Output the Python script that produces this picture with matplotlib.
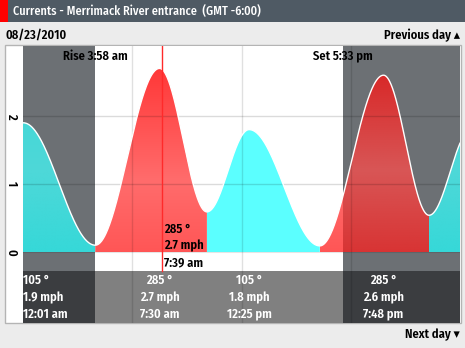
import numpy as np
import matplotlib
matplotlib.use("Agg")
import matplotlib.pyplot as plt
from matplotlib.colors import LinearSegmentedColormap
from matplotlib.patches import Polygon, Rectangle

plt.rcParams["font.family"] = ["Fira Sans Condensed", "Roboto Condensed",
                               "Liberation Sans Narrow", "Liberation Sans", "DejaVu Sans"]

TITLE = "Currents - Merrimack River entrance  (GMT -6:00)"
DATE_LABEL = "08/23/2010"

# current extremes for the day (hours after midnight, speed in mph)
EXTREME_HOURS = [0.017, 3.97, 7.5, 10.1, 12.42, 16.3, 19.8, 22.3, 24.6]
EXTREME_SPEEDS = [1.9, 0.1, 2.7, 0.59, 1.8, 0.09, 2.6, 0.54, 1.8]
# flow direction between successive slack points
RUN_BOUNDS = [0.0, 3.97, 10.1, 16.3, 22.3, 24.0]
RUN_DIRECTIONS = [105, 285, 105, 285, 105]

SUNRISE_H = 3 + 58 / 60
SUNSET_H = 17 + 33 / 60
SUNRISE_LABEL = "Rise 3:58 am"
SUNSET_LABEL = "Set 5:33 pm"

CURSOR_H = 7 + 39 / 60
CURSOR_LINES = ["285 °", "2.7 mph", "7:39 am"]

# peak flow table
PEAK_HOURS = [0.017, 7.5, 12.42, 19.8]
PEAK_DIRS = ["105 °", "285 °", "105 °", "285 °"]
PEAK_SPEEDS = ["1.9 mph", "2.7 mph", "1.8 mph", "2.6 mph"]
PEAK_TIMES = ["12:01 am", "7:30 am", "12:25 pm", "7:48 pm"]

W, H = 465, 348
BG = "#ececec"
NIGHT = "#6c7074"
TABLE_DAY = "#808080"
TABLE_NIGHT = "#3b3d40"
FS = 9
WEIGHT = "semibold"

FILL_COLORS = {
    (285, "day"): [(0.0, "#ff5656"), (0.35, "#ff6c6c"), (1.0, "#ff2e2e")],
    (285, "night"): [(0.0, "#d83434"), (0.4, "#d85656"), (1.0, "#d81c1c")],
    (105, "day"): [(0.0, "#5cffff"), (1.0, "#5affff")],
    (105, "night"): [(0.0, "#36d8d8"), (0.4, "#4ed8d8"), (1.0, "#3ad6d6")],
}


def speed_at(hours):
    hours = np.asarray(hours, dtype=float)
    out = np.empty_like(hours)
    for i, t in enumerate(hours):
        k = np.searchsorted(EXTREME_HOURS, t) - 1
        k = min(max(k, 0), len(EXTREME_HOURS) - 2)
        t0, t1 = EXTREME_HOURS[k], EXTREME_HOURS[k + 1]
        v0, v1 = EXTREME_SPEEDS[k], EXTREME_SPEEDS[k + 1]
        frac = np.clip((t - t0) / (t1 - t0), 0, 1)
        out[i] = v0 + (v1 - v0) * (1 - np.cos(np.pi * frac)) / 2
    return out


def ypx(p):
    # vertical pixel row -> speed units (zero line at row 252, 68 px per mph)
    return (252 - p) / 68


fig = plt.figure(figsize=(W / 100, H / 100), dpi=100, facecolor=BG)

# header bar
fig.patches.append(Rectangle((0, 1 - 22 / H), 1, 22 / H, transform=fig.transFigure,
                             facecolor="#4f5a64", edgecolor="none", zorder=-2))
fig.patches.append(Rectangle((0, 1 - 22 / H), 8 / W, 22 / H, transform=fig.transFigure,
                             facecolor="#ff0000", edgecolor="none", zorder=-2))
fig.text(13 / W, 1 - 11.5 / H, TITLE, color="white", fontsize=8.8, fontweight="medium",
         va="center", ha="left")
fig.text(5 / W, 1 - 35 / H, DATE_LABEL, color="black", fontsize=FS, fontweight=WEIGHT,
         va="center", ha="left")
fig.text(460 / W, 1 - 35 / H, "Previous day \u25b4", color="black", fontsize=FS,
         fontweight=WEIGHT, va="center", ha="right")
fig.text(460 / W, 1 - 335 / H, "Next day \u25be", color="black", fontsize=FS,
         fontweight=WEIGHT, va="center", ha="right")

# outer frame with white label column
fig.patches.append(Rectangle((5 / W, 1 - 323 / H), 456 / W, 278 / H, transform=fig.transFigure,
                             facecolor="white", edgecolor="#b4b4b4", linewidth=1, zorder=-2))

ax = fig.add_axes([23 / W, 1 - 323 / H, 437 / W, 277 / H])
y_top, y_bottom = ypx(46), ypx(323)
ax.set_facecolor("white")
for s in ax.spines.values():
    s.set_visible(False)
ax.set_xticks([])
ax.set_yticks([0, 1, 2])
ax.set_yticklabels(["0", "1", "2"], rotation=-90, fontsize=FS, fontweight=WEIGHT,
                   va="center")
ax.tick_params(axis="y", length=0, pad=4)

band_low = ypx(271)
night_spans = [(0, SUNRISE_H), (SUNSET_H, 24)]

# backgrounds: sky, cursor band and peak table
for a, b in night_spans:
    ax.add_patch(Rectangle((a, band_low), b - a, y_top - band_low, facecolor=NIGHT,
                           edgecolor="none", zorder=0))
    ax.add_patch(Rectangle((a, y_bottom), b - a, band_low - y_bottom, facecolor=TABLE_NIGHT,
                           edgecolor="none", zorder=0))
ax.add_patch(Rectangle((SUNRISE_H, y_bottom), SUNSET_H - SUNRISE_H, band_low - y_bottom,
                       facecolor=TABLE_DAY, edgecolor="none", zorder=0))

# filled current speed, one gradient per flow direction and light period
grad = np.linspace(0, 1, 256).reshape(-1, 1)
for (a, b), direction in zip(zip(RUN_BOUNDS[:-1], RUN_BOUNDS[1:]), RUN_DIRECTIONS):
    t = np.linspace(a, b, 300)
    v = speed_at(t)
    verts = [(a, 0)] + list(zip(t, v)) + [(b, 0)]
    poly = Polygon(verts, closed=True, facecolor="none", edgecolor="none")
    ax.add_patch(poly)
    pieces = [(a, b, "day")] + [(max(a, n0), min(b, n1), "night")
                                 for n0, n1 in night_spans if min(b, n1) > max(a, n0)]
    for x0, x1, period in pieces:
        cmap = LinearSegmentedColormap.from_list("f", FILL_COLORS[(direction, period)])
        im = ax.imshow(grad, origin="lower", extent=[x0, x1, 0, 3.0], aspect="auto",
                       cmap=cmap, interpolation="bilinear", zorder=1)
        im.set_clip_path(poly)
ax.set_xlim(0, 24)
ax.set_ylim(y_bottom, y_top)

t_all = np.linspace(0, 24, 1200)
ax.plot(t_all, speed_at(t_all), color="white", linewidth=1.0, zorder=3)

# grid
for yv in [1, 2]:
    ax.plot([0, 24], [yv, yv], color="black", alpha=0.14, linewidth=1, zorder=2)
for xv in [6, 12, 18]:
    ax.plot([xv, xv], [y_bottom, y_top], color="black", alpha=0.12, linewidth=1, zorder=2)
ax.plot([0, 24], [0, 0], color="black", alpha=0.1, linewidth=0.8, zorder=2)

# sunrise / sunset labels
ax.text(SUNRISE_H, ypx(56), SUNRISE_LABEL, ha="center", va="center", fontsize=FS,
        fontweight=WEIGHT, color="black", zorder=5)
ax.text(SUNSET_H, ypx(56), SUNSET_LABEL, ha="center", va="center", fontsize=FS,
        fontweight=WEIGHT, color="black", zorder=5)

# cursor
ax.plot([CURSOR_H, CURSOR_H], [band_low, y_top], color="#ff2a2a", linewidth=1, zorder=4)
for line, row in zip(CURSOR_LINES, [229, 246, 263]):
    ax.text(CURSOR_H + 0.1, ypx(row), line, ha="left", va="center", fontsize=FS,
            fontweight=WEIGHT, color="black", zorder=5)

# peak table
for hour, d, spd, tm in zip(PEAK_HOURS, PEAK_DIRS, PEAK_SPEEDS, PEAK_TIMES):
    if hour < 1:
        x, ha = 0.02, "left"
    else:
        x, ha = hour, "center"
    for txt, row in zip([d, spd, tm], [280, 298, 314]):
        ax.text(x, ypx(row), txt, ha=ha, va="center", fontsize=FS, fontweight=WEIGHT,
                color="white", zorder=5)

fig.savefig("out.png", dpi=100, facecolor=BG)
